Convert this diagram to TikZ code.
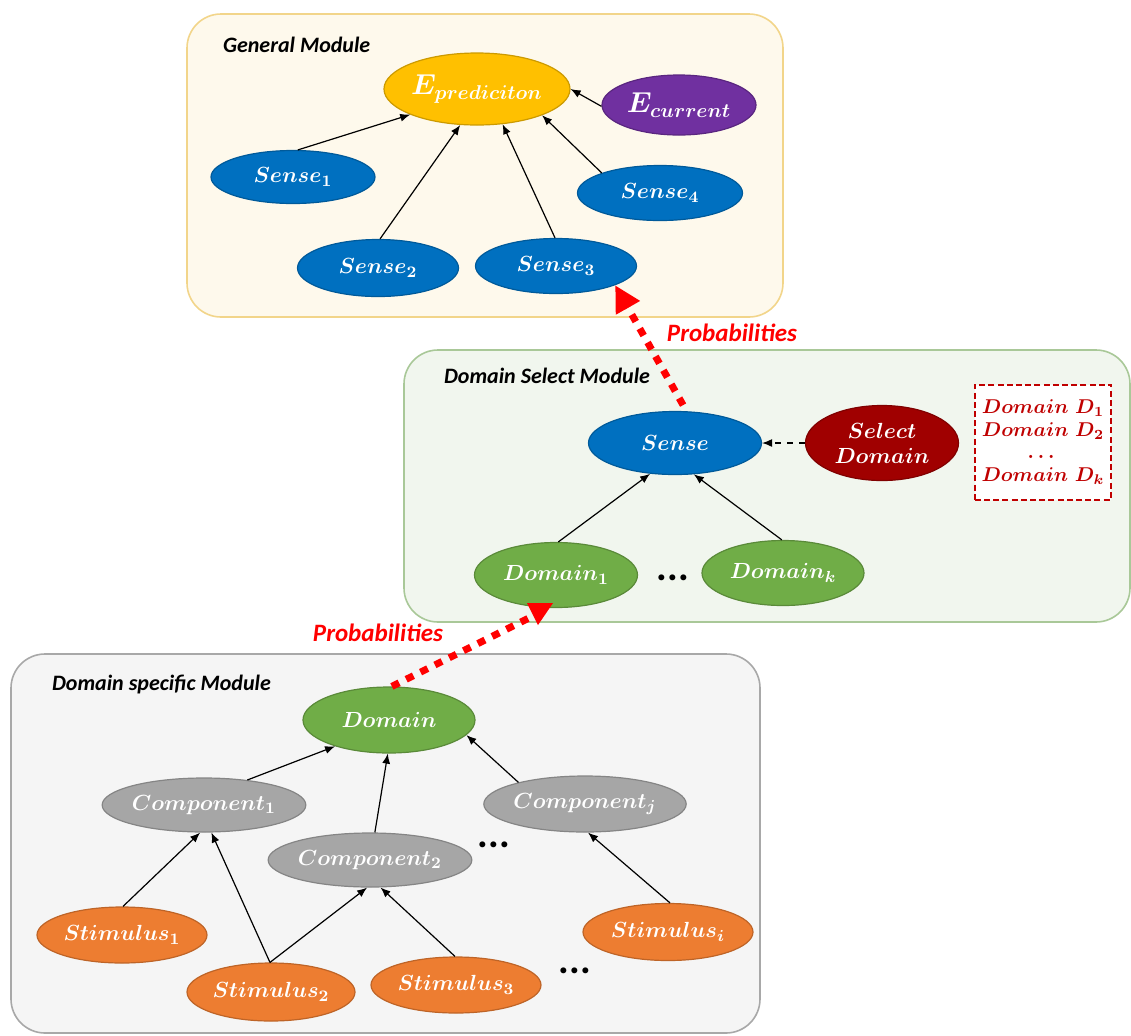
\documentclass[tikz,border=0pt]{standalone}
\usepackage{amsmath}
\usepackage{fontspec}
\newfontfamily\titlefont{Carlito}
\usepackage{xcolor}
\usepackage{tikz}
\usetikzlibrary{shapes.geometric,arrows.meta,positioning,calc}

\definecolor{genfill}{HTML}{FEF9EC}
\definecolor{gendraw}{HTML}{F2D58A}
\definecolor{selfill}{HTML}{F1F6EE}
\definecolor{seldraw}{HTML}{A9C898}
\definecolor{specfill}{HTML}{F5F5F5}
\definecolor{specdraw}{HTML}{A8A8A8}
\definecolor{cyellow}{HTML}{FFC000}
\definecolor{cpurple}{HTML}{7030A0}
\definecolor{cblue}{HTML}{0070C0}
\definecolor{cdred}{HTML}{A00000}
\definecolor{cgreen}{HTML}{70AD47}
\definecolor{cgray}{HTML}{A6A6A6}
\definecolor{corange}{HTML}{ED7D31}
\definecolor{listred}{HTML}{C00000}

\begin{document}
\begin{tikzpicture}[x=0.5pt, y=-0.5pt,
    modtitle/.style={anchor=west, font=\titlefont\bfseries\itshape\fontsize{11}{13}\selectfont},
    ell/.style={ellipse, inner sep=0pt, text=white, line width=0.6pt, font=\fontsize{11}{13}\selectfont\boldmath},
    edge/.style={-{Latex[length=5pt,width=4pt]}, line width=0.6pt},
    prob/.style={red, line width=3.5pt, dash pattern=on 4pt off 4pt},
    problabel/.style={text=red, font=\titlefont\bfseries\itshape\fontsize{12.5}{14}\selectfont},
    dotsnode/.style={anchor=base, font=\titlefont\bfseries\fontsize{20}{20}\selectfont}]
    \useasboundingbox (0,0) rectangle (1131,1035);

    % modules
    \draw[fill=genfill, draw=gendraw, line width=0.8pt, rounded corners=17pt] (187,14) rectangle (783,317);
    \draw[fill=selfill, draw=seldraw, line width=0.8pt, rounded corners=17pt] (404,350) rectangle (1130,622);
    \draw[fill=specfill, draw=specdraw, line width=0.8pt, rounded corners=17pt] (11,654) rectangle (760,1033);
    \node[modtitle] (tgen) at (216,45) {General Module};
    \node[modtitle] (tsel) at (437,376) {Domain Select Module};
    \node[modtitle] (tspec) at (45,684) {Domain specific Module};

    % general module
    \node[ell, fill=cyellow, draw=cyellow!80!black, minimum width=86.5pt, minimum height=36pt, font=\fontsize{14}{16}\selectfont\boldmath] (ep) at (477,89) {$E_{prediciton}$};
    \node[ell, fill=cpurple, draw=cpurple!80!black, minimum width=77pt, minimum height=30pt, font=\fontsize{14}{16}\selectfont\boldmath] (ec) at (679,105) {$E_{current}$};
    \node[ell, fill=cblue, draw=cblue!80!black, minimum width=82pt, minimum height=26.5pt] (s1) at (293,177) {$Sense_1$};
    \node[ell, fill=cblue, draw=cblue!80!black, minimum width=80.5pt, minimum height=28.5pt] (s2) at (378,268) {$Sense_2$};
    \node[ell, fill=cblue, draw=cblue!80!black, minimum width=80.5pt, minimum height=27.5pt] (s3) at (556,266) {$Sense_3$};
    \node[ell, fill=cblue, draw=cblue!80!black, minimum width=82.5pt, minimum height=27.5pt] (s4) at (660,193) {$Sense_4$};

    \draw[edge] (s1.80) -- (ep.-159);
    \draw[edge] (s2.86) -- (ep.-115);
    \draw[edge] (s3.92) -- (ep.-54);
    \draw[edge] (s4.161) -- (ep.-22);
    \draw[edge] (ec.181) -- (ep.east);

    % domain select module
    \node[ell, fill=cblue, draw=cblue!80!black, minimum width=86.5pt, minimum height=31.5pt] (sn) at (675,443) {$Sense$};
    \node[ell, fill=cdred, draw=cdred!80!black, minimum width=76.5pt, minimum height=37.5pt, align=center, font=\fontsize{11}{12.5}\selectfont\boldmath] (sd) at (882,443) {$Select$\\$Domain$};
    \node[draw=listred, fill=white, line width=1pt, dash pattern=on 3pt off 1.6pt, minimum width=67.5pt, minimum height=57.5pt, align=center, text=listred, font=\fontsize{10}{11.3}\selectfont\boldmath] (dlist) at (1043,442) {$Domain\ D_1$\\$Domain\ D_2$\\$\dots$\\$Domain\ D_k$};
    \node[ell, fill=cgreen, draw=cgreen!80!black, minimum width=81.5pt, minimum height=32.5pt] (d1) at (556,575) {$Domain_1$};
    \node[ell, fill=cgreen, draw=cgreen!80!black, minimum width=81pt, minimum height=32.5pt] (dk) at (783,573) {$Domain_k$};
    \node[dotsnode] (dotsa) at (673,580) {...};

    \draw[edge] (d1.86) -- (sn.-129);
    \draw[edge] (dk.92) -- (sn.-59);
    \draw[edge, dashed] (sd.west) -- (sn.east);

    % domain specific module
    \node[ell, fill=cgreen, draw=cgreen!80!black, minimum width=86pt, minimum height=33pt] (dom) at (389,720) {$Domain$};
    \node[ell, fill=cgray, draw=cgray!80!black, minimum width=87.5pt, minimum height=27pt] (c1) at (204,805) {$Component_1$};
    \node[ell, fill=cgray, draw=cgray!80!black, minimum width=87.5pt, minimum height=27pt] (c2) at (370,860) {$Component_2$};
    \node[ell, fill=cgray, draw=cgray!80!black, minimum width=88pt, minimum height=28pt] (cj) at (585,804) {$Component_j$};
    \node[ell, fill=corange, draw=corange!80!black, minimum width=85pt, minimum height=28pt] (st1) at (122,935) {$Stimulus_1$};
    \node[ell, fill=corange, draw=corange!80!black, minimum width=84pt, minimum height=29pt] (st2) at (271,992) {$Stimulus_2$};
    \node[ell, fill=corange, draw=corange!80!black, minimum width=85pt, minimum height=28pt] (st3) at (456,985) {$Stimulus_3$};
    \node[ell, fill=corange, draw=corange!80!black, minimum width=85pt, minimum height=28.5pt] (sti) at (668,932) {$Stimulus_i$};
    \node[dotsnode] (dotsb) at (494,847) {...};
    \node[dotsnode] (dotsc) at (575,973) {...};

    \draw[edge] (c1.30) -- (dom.-154);
    \draw[edge] (c2.80) -- (dom.-92);
    \draw[edge] (cj.162) -- (dom.-11);
    \draw[edge] (st1.88) -- (c1.-98);
    \draw[edge] (st2.92) -- (c1.-75);
    \draw[edge] (st2.92) -- (c2.-96);
    \draw[edge] (st3.92) -- (c2.-69);
    \draw[edge] (sti.86) -- (cj.-84);

    % probabilities
    \draw[prob, shorten <=3.5pt, -{Triangle[length=13pt,width=13pt]}] (sn.70) -- (s3.-18);
    \node[problabel] (pa) at (732,333) {Probabilities};
    \coordinate (tri) at (540,613);
    \draw[prob] (dom.85) -- ($(tri)+(-9,4)$);
    \fill[red] ($(tri)+(-13,-10)$) -- ($(tri)+(13,-10)$) -- ($(tri)+(-2,12)$) -- cycle;
    \node[problabel] (pb) at (378,633) {Probabilities};
\end{tikzpicture}
\end{document}
